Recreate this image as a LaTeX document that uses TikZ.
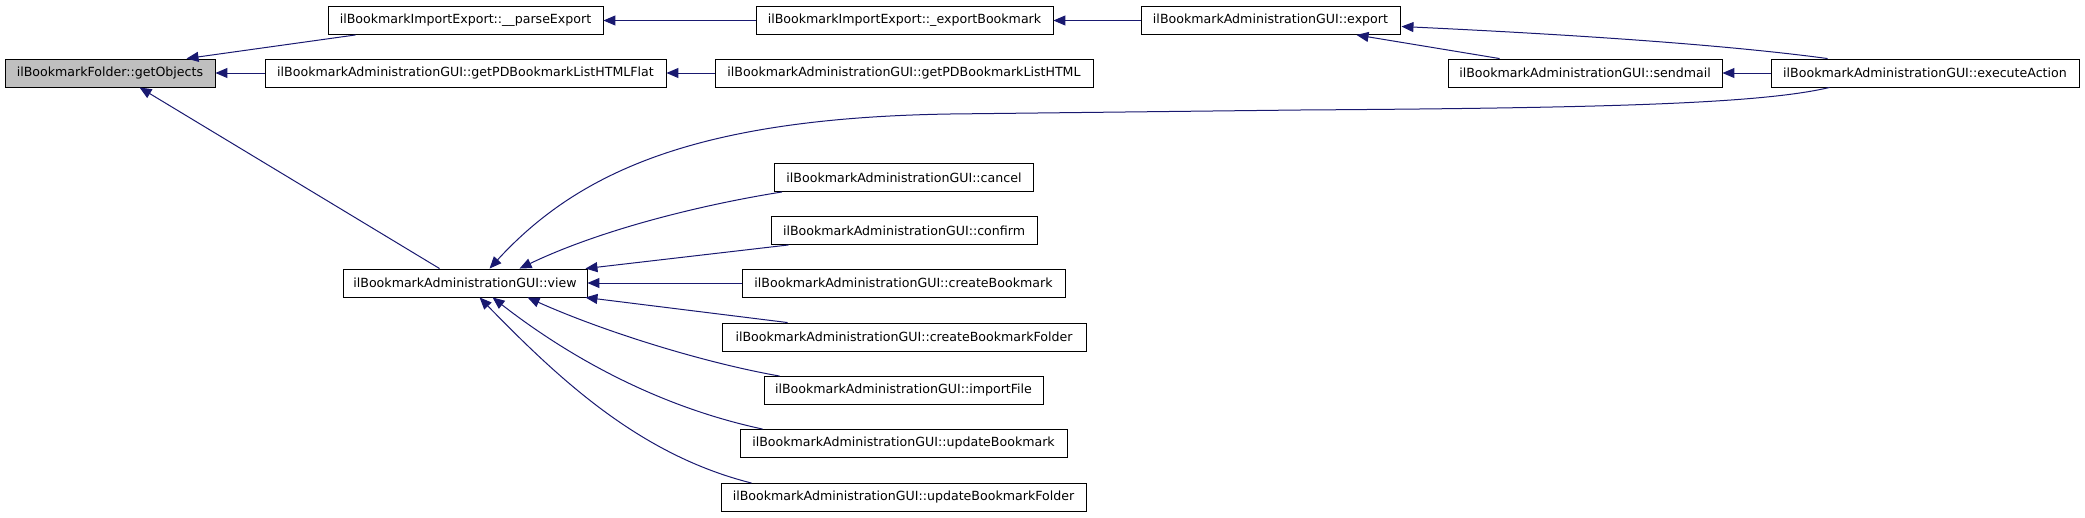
\documentclass[tikz,border=0pt]{standalone}
\usepackage{fontspec}
\setmainfont{DejaVu Sans}
\usetikzlibrary{arrows.meta,calc}
\definecolor{edgeblue}{HTML}{191970}
\definecolor{rootgray}{HTML}{BFBFBF}
\begin{document}
\begin{tikzpicture}[x=1pt,y=-1pt,
  fn/.style={draw=black, line width=0.9pt, fill=white, minimum height=28pt, inner sep=0pt,
    font=\fontsize{12.6pt}{15pt}\selectfont},
  root/.style={fn, fill=rootgray},
  edge/.style={draw=edgeblue, line width=1pt, -{Triangle[length=12pt,width=10pt,fill=edgeblue]}}]
\useasboundingbox (0,0) rectangle (2085,517);
% nodes
\node[root, minimum width=210pt] (getObjects) at (110,73) {ilBookmarkFolder::getObjects};
\node[fn, minimum width=275pt] (parseExport) at (465.5,20.5) {ilBookmarkImportExport::\_\_parseExport};
\node[fn, minimum width=401pt] (htmlFlat) at (465.5,73) {ilBookmarkAdministrationGUI::getPDBookmarkListHTMLFlat};
\node[fn, minimum width=244pt] (view) at (465,283) {ilBookmarkAdministrationGUI::view};
\node[fn, minimum width=297pt] (exportBookmark) at (904.5,20.5) {ilBookmarkImportExport::\_exportBookmark};
\node[fn, minimum width=378pt] (html) at (904,73) {ilBookmarkAdministrationGUI::getPDBookmarkListHTML};
\node[fn, minimum width=259pt] (cancel) at (904,177.5) {ilBookmarkAdministrationGUI::cancel};
\node[fn, minimum width=266pt] (confirm) at (904,230.5) {ilBookmarkAdministrationGUI::confirm};
\node[fn, minimum width=323pt] (createBookmark) at (903.5,283) {ilBookmarkAdministrationGUI::createBookmark};
\node[fn, minimum width=364pt] (createFolder) at (904,337) {ilBookmarkAdministrationGUI::createBookmarkFolder};
\node[fn, minimum width=279pt] (importFile) at (903.5,390.5) {ilBookmarkAdministrationGUI::importFile};
\node[fn, minimum width=327pt] (updateBookmark) at (903.5,443.5) {ilBookmarkAdministrationGUI::updateBookmark};
\node[fn, minimum width=365pt] (updateFolder) at (903.5,497.5) {ilBookmarkAdministrationGUI::updateBookmarkFolder};
\node[fn, minimum width=259pt] (export) at (1270.5,20.5) {ilBookmarkAdministrationGUI::export};
\node[fn, minimum width=274pt] (sendmail) at (1585,73) {ilBookmarkAdministrationGUI::sendmail};
\node[fn, minimum width=308pt] (executeAction) at (1925,73) {ilBookmarkAdministrationGUI::executeAction};
% edges
\draw[edge] ($(parseExport.south west)+(28,0)$) -- ($(getObjects.north west)+(182,0)$);
\draw[edge] (htmlFlat.west) -- (getObjects.east);
\draw[edge] ($(view.north west)+(97,0)$) -- ($(getObjects.south west)+(135,0)$);
\draw[edge] (exportBookmark.west) -- (parseExport.east);
\draw[edge] (html.west) -- (htmlFlat.east);
\draw[edge] (export.west) -- (exportBookmark.east);
\draw[edge] ($(sendmail.north west)+(52,0)$) -- ($(export.south west)+(216,0)$);
\draw[edge] ($(executeAction.north west)+(57,0)$) .. controls (1720,44) and (1560,34) .. ($(export.east)+(1,6)$);
\draw[edge] (executeAction.west) -- (sendmail.east);
\draw[edge] ($(executeAction.south west)+(59,0)$) .. controls (1760,104) and (1600,108) .. (1300,110)
   -- (950,114) .. controls (700,118) and (580,170) .. ($(view.north west)+(147,0)$);
\draw[edge] ($(cancel.south west)+(8,0)$) .. controls (700,205) and (600,230) .. ($(view.north west)+(177,0)$);
\draw[edge] ($(confirm.south west)+(18,0)$) -- ($(view.north east)+(-2,0)$);
\draw[edge] (createBookmark.west) -- (view.east);
\draw[edge] ($(createFolder.north west)+(66,0)$) -- ($(view.south east)+(-2,0)$);
\draw[edge] ($(importFile.north west)+(16,0)$) .. controls (700,362) and (600,330) .. ($(view.south west)+(185,0)$);
\draw[edge] ($(updateBookmark.north west)+(23,0)$) .. controls (650,405) and (560,350) .. ($(view.south west)+(150,0)$);
\draw[edge] ($(updateFolder.north west)+(31,0)$) .. controls (640,455) and (560,380) .. ($(view.south west)+(137,0)$);
\end{tikzpicture}
\end{document}
